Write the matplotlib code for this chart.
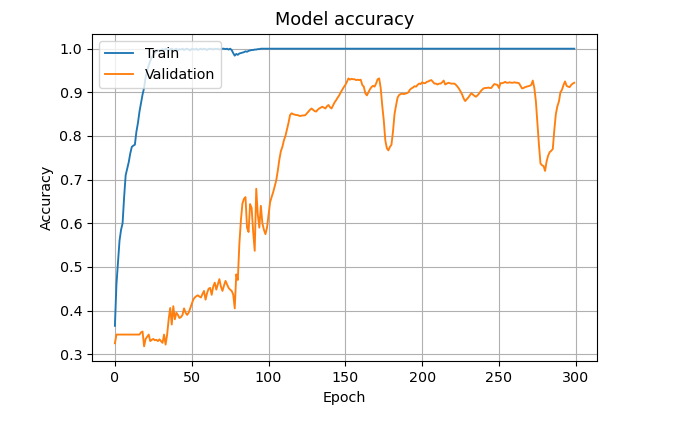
import matplotlib
matplotlib.use("Agg")
import matplotlib.pyplot as plt
import numpy as np

train_acc = [
    0.365, 0.46, 0.51, 0.56, 0.585, 0.60, 0.66, 0.71, 0.725, 0.74,
    0.76, 0.775, 0.778, 0.78, 0.81, 0.83, 0.856, 0.875, 0.895, 0.91,
    0.935, 0.95, 0.962, 0.972, 0.98, 0.986, 0.99, 0.994, 0.996, 0.995,
    0.997, 0.999, 0.996, 1.0, 0.998, 0.995, 0.999, 1.0, 0.997, 0.998,
    1.0, 0.996, 0.999, 0.998, 1.0, 0.997, 0.999, 1.0, 0.998, 0.996,
    1.0, 0.999, 0.998, 1.0, 0.997, 0.999, 1.0, 0.998, 1.0, 0.999,
    0.997, 1.0, 0.999, 1.0, 0.998, 1.0, 0.999, 1.0, 0.998, 0.999,
    1.0, 1.0, 0.999, 1.0, 0.998, 1.0, 0.997, 0.99, 0.984, 0.988,
    0.986, 0.989, 0.99, 0.991, 0.992, 0.994, 0.993, 0.995, 0.996, 0.997,
    0.997, 0.998, 0.998, 0.999, 0.999, 1.0, 1.0, 1.0, 1.0, 1.0,
    1.0, 1.0, 1.0, 1.0, 1.0, 1.0, 1.0, 1.0, 1.0, 1.0,
    1.0, 1.0, 1.0, 1.0, 1.0, 1.0, 1.0, 1.0, 1.0, 1.0,
    1.0, 1.0, 1.0, 1.0, 1.0, 1.0, 1.0, 1.0, 1.0, 1.0,
    1.0, 1.0, 1.0, 1.0, 1.0, 1.0, 1.0, 1.0, 1.0, 1.0,
    1.0, 1.0, 1.0, 1.0, 1.0, 1.0, 1.0, 1.0, 1.0, 1.0,
    1.0, 1.0, 1.0, 1.0, 1.0, 1.0, 1.0, 1.0, 1.0, 1.0,
    1.0, 1.0, 1.0, 1.0, 1.0, 1.0, 1.0, 1.0, 1.0, 1.0,
    1.0, 1.0, 1.0, 1.0, 1.0, 1.0, 1.0, 1.0, 1.0, 1.0,
    1.0, 1.0, 1.0, 1.0, 1.0, 1.0, 1.0, 1.0, 1.0, 1.0,
    1.0, 1.0, 1.0, 1.0, 1.0, 1.0, 1.0, 1.0, 1.0, 1.0,
    1.0, 1.0, 1.0, 1.0, 1.0, 1.0, 1.0, 1.0, 1.0, 1.0,
    1.0, 1.0, 1.0, 1.0, 1.0, 1.0, 1.0, 1.0, 1.0, 1.0,
    1.0, 1.0, 1.0, 1.0, 1.0, 1.0, 1.0, 1.0, 1.0, 1.0,
    1.0, 1.0, 1.0, 1.0, 1.0, 1.0, 1.0, 1.0, 1.0, 1.0,
    1.0, 1.0, 1.0, 1.0, 1.0, 1.0, 1.0, 1.0, 1.0, 1.0,
    1.0, 1.0, 1.0, 1.0, 1.0, 1.0, 1.0, 1.0, 1.0, 1.0,
    1.0, 1.0, 1.0, 1.0, 1.0, 1.0, 1.0, 1.0, 1.0, 1.0,
    1.0, 1.0, 1.0, 1.0, 1.0, 1.0, 1.0, 1.0, 1.0, 1.0,
    1.0, 1.0, 1.0, 1.0, 1.0, 1.0, 1.0, 1.0, 1.0, 1.0,
    1.0, 1.0, 1.0, 1.0, 1.0, 1.0, 1.0, 1.0, 1.0, 1.0,
]

val_acc = [
    0.325, 0.345, 0.345, 0.345, 0.345, 0.345, 0.345, 0.345, 0.345, 0.345,
    0.345, 0.345, 0.345, 0.345, 0.345, 0.345, 0.345, 0.35, 0.352, 0.318,
    0.335, 0.34, 0.345, 0.33, 0.333, 0.335, 0.332, 0.333, 0.33, 0.334,
    0.33, 0.326, 0.345, 0.322, 0.345, 0.38, 0.406, 0.368, 0.41, 0.38,
    0.395, 0.39, 0.383, 0.385, 0.39, 0.405, 0.395, 0.39, 0.395, 0.405,
    0.415, 0.425, 0.43, 0.433, 0.435, 0.432, 0.43, 0.438, 0.445, 0.425,
    0.44, 0.45, 0.452, 0.436, 0.455, 0.464, 0.448, 0.46, 0.472, 0.455,
    0.445, 0.457, 0.468, 0.46, 0.452, 0.448, 0.445, 0.437, 0.405, 0.483,
    0.47, 0.552, 0.606, 0.645, 0.656, 0.66, 0.59, 0.58, 0.644, 0.635,
    0.58, 0.537, 0.679, 0.62, 0.59, 0.64, 0.6, 0.585, 0.575, 0.59,
    0.62, 0.648, 0.66, 0.671, 0.685, 0.698, 0.72, 0.745, 0.765, 0.775,
    0.79, 0.80, 0.815, 0.83, 0.848, 0.852, 0.85, 0.849, 0.848, 0.848,
    0.846, 0.846, 0.847, 0.847, 0.848, 0.852, 0.856, 0.86, 0.863, 0.86,
    0.857, 0.856, 0.86, 0.863, 0.865, 0.867, 0.865, 0.863, 0.868, 0.871,
    0.866, 0.863, 0.87, 0.877, 0.882, 0.888, 0.893, 0.9, 0.906, 0.912,
    0.917, 0.924, 0.932, 0.929, 0.931, 0.93, 0.93, 0.928, 0.929, 0.928,
    0.929, 0.917, 0.913, 0.898, 0.893, 0.9, 0.907, 0.912, 0.915, 0.913,
    0.92, 0.93, 0.932, 0.91, 0.87, 0.836, 0.79, 0.772, 0.767, 0.775,
    0.78, 0.81, 0.85, 0.87, 0.888, 0.894, 0.896, 0.897, 0.896, 0.897,
    0.898, 0.9, 0.906, 0.909, 0.911, 0.914, 0.913, 0.917, 0.92, 0.919,
    0.923, 0.921, 0.921, 0.924, 0.925, 0.927, 0.928, 0.924, 0.92, 0.92,
    0.918, 0.92, 0.92, 0.923, 0.927, 0.918, 0.92, 0.922, 0.921, 0.92,
    0.92, 0.92, 0.917, 0.913, 0.908, 0.902, 0.895, 0.886, 0.88, 0.884,
    0.888, 0.893, 0.898, 0.895, 0.892, 0.89, 0.893, 0.897, 0.902, 0.906,
    0.909, 0.91, 0.91, 0.911, 0.91, 0.91, 0.915, 0.919, 0.918, 0.917,
    0.91, 0.921, 0.921, 0.922, 0.924, 0.922, 0.922, 0.923, 0.922, 0.922,
    0.923, 0.922, 0.922, 0.921, 0.915, 0.909, 0.91, 0.912, 0.913, 0.914,
    0.915, 0.917, 0.927, 0.91, 0.88, 0.83, 0.78, 0.737, 0.733, 0.731,
    0.72, 0.742, 0.755, 0.763, 0.766, 0.77, 0.813, 0.85, 0.868, 0.879,
    0.9, 0.906, 0.917, 0.925, 0.915, 0.913, 0.912, 0.917, 0.92, 0.922,
]

series_labels = ["Train", "Validation"]
title = "Model accuracy"
xlabel = "Epoch"
ylabel = "Accuracy"

fig = plt.figure(figsize=(6.81, 4.28), dpi=100)
ax = fig.add_axes([0.135, 0.156, 0.742, 0.765])
ax.plot(np.arange(len(train_acc)), train_acc, color="#1f77b4", lw=1.35, label=series_labels[0])
ax.plot(np.arange(len(val_acc)), val_acc, color="#ff7f0e", lw=1.35, label=series_labels[1])
ax.set_title(title, fontsize=12.8)
ax.set_xlabel(xlabel, fontsize=10.3)
ax.set_ylabel(ylabel, fontsize=10.3)
ax.tick_params(labelsize=10.3)
ax.grid(True)
ax.legend(loc="upper left", fontsize=10.3)
fig.savefig("out.png", dpi=100)
